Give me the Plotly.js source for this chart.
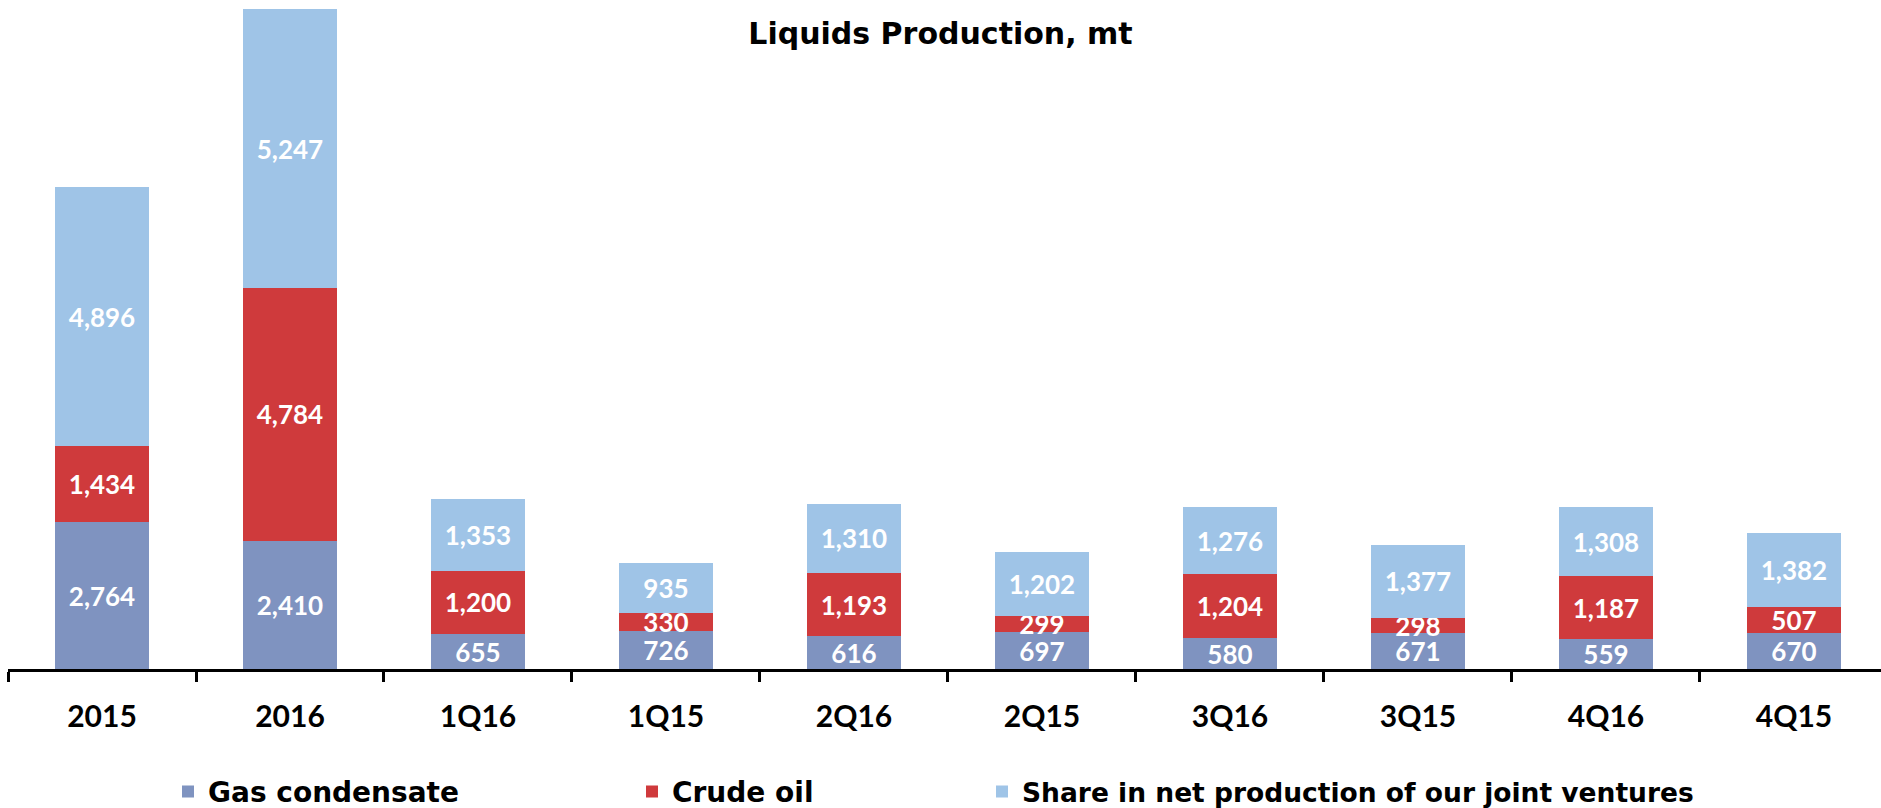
<!DOCTYPE html>
<html>
<head>
<meta charset="utf-8">
<script src="https://cdn.plot.ly/plotly-3.0.1.min.js"></script>
<style>html,body{margin:0;padding:0;background:#fff}#chart{width:1881px;height:808px}</style>
</head>
<body>
<div id="chart"></div>
<script>
const categories = ['2015', '2016', '1Q16', '1Q15', '2Q16', '2Q15', '3Q16', '3Q15', '4Q16', '4Q15'];
const gasCondensate = [2764, 2410, 655, 726, 616, 697, 580, 671, 559, 670];
const crudeOil = [1434, 4784, 1200, 330, 1193, 299, 1204, 298, 1187, 507];
const jvShare = [4896, 5247, 1353, 935, 1310, 1202, 1276, 1377, 1308, 1382];
const seriesNames = ['Gas condensate', 'Crude oil', 'Share in net production of our joint ventures'];

const FONT = 'Lato, "Open Sans", sans-serif';
const WIDE = '"DejaVu Sans", Lato, sans-serif';
const colors = ['#7F93C0', '#CF3A3C', '#9FC4E7'];
const seriesData = [gasCondensate, crudeOil, jvShare];
const legendIds = ['legend', 'legend2', 'legend3'];

const traces = seriesData.map((vals, i) => ({
  type: 'bar',
  name: seriesNames[i],
  x: categories,
  y: vals,
  marker: {color: colors[i], line: {width: 0}},
  texttemplate: '%{y:,.0f}',
  textposition: 'inside',
  insidetextanchor: 'middle',
  constraintext: 'none',
  textangle: 0,
  cliponaxis: false,
  textfont: {family: FONT, size: 26, color: '#ffffff', weight: 700},
  hoverinfo: 'x+y+name',
  legend: legendIds[i]
}));

const legendBase = (x, size) => ({
  xref: 'container', yref: 'container',
  x: x, y: 0.02, xanchor: 'left', yanchor: 'middle',
  orientation: 'h',
  font: {family: WIDE, size: size, color: '#000', weight: 700},
  bgcolor: 'rgba(0,0,0,0)'
});

const layout = {
  width: 1881, height: 808,
  paper_bgcolor: '#fff', plot_bgcolor: '#fff',
  margin: {l: 8, r: 0, t: 0, b: 139},
  barmode: 'stack',
  bargap: 0.5,
  showlegend: true,
  title: {
    text: 'Liquids Production, mt',
    font: {family: WIDE, size: 30, color: '#000', weight: 700},
    x: 0.5, xanchor: 'center', xref: 'container',
    y: 1 - 33 / 808, yanchor: 'middle', yref: 'container'
  },
  xaxis: {
    type: 'category',
    range: [-0.5, 9.463],
    showline: true, linecolor: '#000', linewidth: 3,
    ticks: 'outside', tickson: 'boundaries', ticklen: 10, tickwidth: 3, tickcolor: '#000',
    ticklabelstandoff: 19,
    tickfont: {family: FONT, size: 30, color: '#000', weight: 700},
    showgrid: false, zeroline: false, fixedrange: true
  },
  yaxis: {visible: false, range: [0, 12620], fixedrange: true},
  legend: legendBase(168 / 1881, 28),
  legend2: legendBase(632 / 1881, 28),
  legend3: legendBase(982 / 1881, 26.5)
};

Plotly.newPlot('chart', traces, layout, {displayModeBar: false, staticPlot: true});
</script>
</body>
</html>
